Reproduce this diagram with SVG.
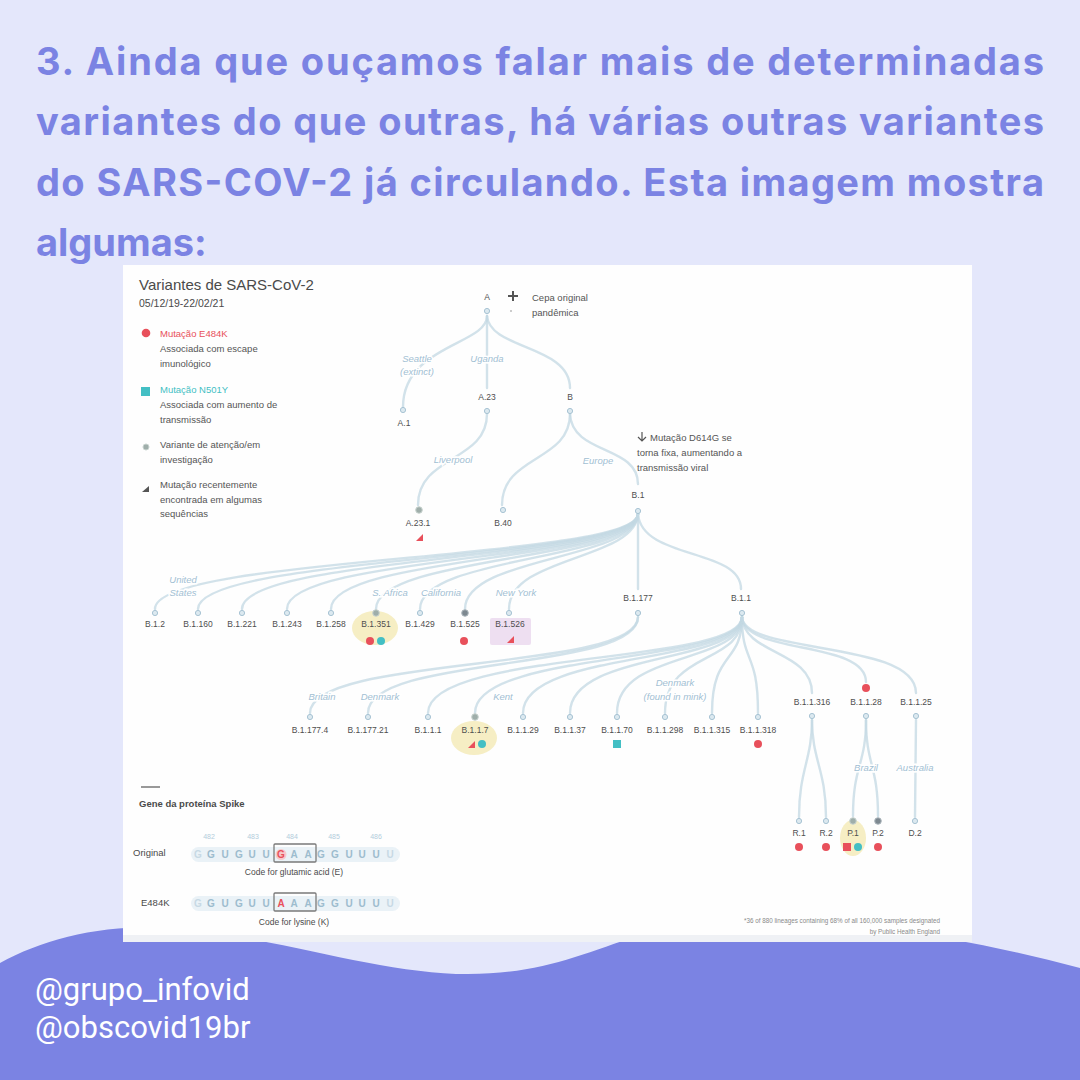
<svg xmlns="http://www.w3.org/2000/svg" width="1080" height="1080" viewBox="0 0 1080 1080">
<style>
.hd{font-family:Inter,"Liberation Sans",sans-serif;font-weight:700;font-size:38px;fill:#7B83E3}
.ft{font-family:Roboto,"Liberation Sans",sans-serif;font-size:31px;fill:#FFFFFF}
.t{font-family:"Liberation Sans",Arial,sans-serif;fill:#4A4A4A}
.lg{font-family:"Liberation Sans",Arial,sans-serif;font-size:9.5px;fill:#555}
.lb{font-family:"Liberation Sans",Arial,sans-serif;font-size:8.5px;fill:#4E4E4E;text-anchor:middle}
.cty{font-family:"Liberation Sans",Arial,sans-serif;font-size:9.5px;font-style:italic;fill:#A2C0D3;stroke:#FFFFFF;stroke-width:3;paint-order:stroke;text-anchor:middle}
.e{fill:none;stroke:#C3D8E3;stroke-width:2.4;stroke-linecap:round;opacity:.75}
.nd{fill:#DCE9F0;stroke:#A7C3D3;stroke-width:1}
.voc{fill:#9FAEAA;stroke:#C9D4D0;stroke-width:1}
.dk{fill:#7D8890;stroke:#AEB8BE;stroke-width:1}
.red{fill:#E8505B}
.teal{fill:#43BFC4}
.hl{fill:#F6EEC4}
.seq{font-family:"Liberation Sans",Arial,sans-serif;font-size:10px;fill:#9DBCCE;text-anchor:middle;font-weight:700}
.num{font-family:"Liberation Sans",Arial,sans-serif;font-size:7px;fill:#B3CDDC;text-anchor:middle}
.box{fill:none;stroke:#7A7A7A;stroke-width:1.3}
.fn{font-family:"Liberation Sans",Arial,sans-serif;font-size:6.3px;fill:#8A8A8A;text-anchor:end}
</style>

<rect x="0" y="0" width="1080" height="1080" fill="#E4E7FB"/>
<path d="M0,963 C50,935 120,920 200,930 C300,945 390,974 468,974 C540,974 580,955 640,935 C720,905 900,920 1080,968 L1080,1080 L0,1080 Z" fill="#7B83E3"/>

<g id="heading">
<text class="hd" x="36" y="75" textLength="1008" lengthAdjust="spacing">3. Ainda que ouçamos falar mais de determinadas</text>
<text class="hd" x="36" y="135" textLength="1008" lengthAdjust="spacing">variantes do que outras, há várias outras variantes</text>
<text class="hd" x="36" y="196" textLength="1008" lengthAdjust="spacing">do SARS-COV-2 já circulando. Esta imagem mostra</text>
<text class="hd" x="36" y="256">algumas:</text>
</g>

<g id="footer">
<text class="ft" x="35" y="1000">@grupo_infovid</text>
<text class="ft" x="35" y="1038">@obscovid19br</text>
</g>

<g id="panel">
<rect x="123" y="265" width="849" height="677" fill="#FEFEFE"/>
<rect x="123" y="935" width="849" height="7" fill="#EFF1F5"/>
</g>

<g id="title">
<text class="t" x="139" y="290" font-size="15">Variantes de SARS-CoV-2</text>
<text class="t" x="139" y="307" font-size="10.5">05/12/19-22/02/21</text>
</g>

<g id="legend">
<circle class="red" cx="146" cy="333" r="4.3"/>
<text class="lg" x="160" y="337" style="fill:#E8505B">Mutação E484K</text>
<text class="lg" x="160" y="352">Associada com escape</text>
<text class="lg" x="160" y="367">imunológico</text>
<rect class="teal" x="141" y="387" width="9" height="9"/>
<text class="lg" x="160" y="393" style="fill:#43BFC4">Mutação N501Y</text>
<text class="lg" x="160" y="408">Associada com aumento de</text>
<text class="lg" x="160" y="423">transmissão</text>
<circle class="voc" cx="146" cy="447" r="3"/>
<text class="lg" x="160" y="448">Variante de atenção/em</text>
<text class="lg" x="160" y="463">investigação</text>
<path d="M142,492 L149,486 L149,492 Z" fill="#555"/>
<text class="lg" x="160" y="488">Mutação recentemente</text>
<text class="lg" x="160" y="503">encontrada em algumas</text>
<text class="lg" x="160" y="517">sequências</text>
</g>

<g id="connectors">
<path class="e" d="M487,316 C487,345 403,345 403,407"/>
<path class="e" d="M487,316 L487,388"/>
<path class="e" d="M487,316 C490,350 570,345 570,388"/>
<path class="e" d="M487,414 C487,462 418,455 418,505"/>
<path class="e" d="M570,414 C570,462 502,455 502,505"/>
<path class="e" d="M570,414 C572,455 638,445 638,484"/>
<path class="e" d="M638,514 C636,560 155,556 155,609"/>
<path class="e" d="M638,514 C636,560 198,556 198,609"/>
<path class="e" d="M638,514 C636,560 242,556 242,609"/>
<path class="e" d="M638,514 C636,560 287,556 287,609"/>
<path class="e" d="M638,514 C636,560 331,556 331,609"/>
<path class="e" d="M638,514 C636,560 376,556 376,609"/>
<path class="e" d="M638,514 C636,560 420,556 420,609"/>
<path class="e" d="M638,514 C636,560 465,556 465,609"/>
<path class="e" d="M638,514 C636,560 509,556 509,609"/>
<path class="e" d="M638,514 L638,589"/>
<path class="e" d="M638,514 C642,560 741,548 741,589"/>
<path class="e" d="M638,617 C638,672 310,655 310,713"/>
<path class="e" d="M638,617 C638,672 368,655 368,713"/>
<path class="e" d="M742,617 C742,665 428,650 428,713"/>
<path class="e" d="M742,617 C742,665 475,650 475,713"/>
<path class="e" d="M742,617 C742,665 523,650 523,713"/>
<path class="e" d="M742,617 C742,665 570,650 570,713"/>
<path class="e" d="M742,617 C742,665 617,650 617,713"/>
<path class="e" d="M742,617 C742,665 665,650 665,713"/>
<path class="e" d="M742,617 C742,665 712,650 712,713"/>
<path class="e" d="M742,617 C742,665 758,650 758,713"/>
<path class="e" d="M742,617 C744,655 812,650 812,693"/>
<path class="e" d="M742,617 C744,655 866,640 866,682"/>
<path class="e" d="M742,617 C744,655 916,640 916,693"/>
<path class="e" d="M812,720 C812,760 799,770 799,817"/>
<path class="e" d="M812,720 C812,760 826,770 826,817"/>
<path class="e" d="M866,720 C866,765 853,765 853,816"/>
<path class="e" d="M866,720 C866,765 878,765 878,816"/>
<path class="e" d="M916,720 L915,817"/>
</g>

<g id="countries">
<text class="cty" x="417" y="362">Seattle</text>
<text class="cty" x="417" y="375">(extinct)</text>
<text class="cty" x="487" y="362">Uganda</text>
<text class="cty" x="453" y="463">Liverpool</text>
<text class="cty" x="598" y="464">Europe</text>
<text class="cty" x="183" y="583">United</text>
<text class="cty" x="183" y="596">States</text>
<text class="cty" x="390" y="596">S. Africa</text>
<text class="cty" x="441" y="596">California</text>
<text class="cty" x="516" y="596">New York</text>
<text class="cty" x="322" y="700">Britain</text>
<text class="cty" x="380" y="700">Denmark</text>
<text class="cty" x="503" y="700">Kent</text>
<text class="cty" x="675" y="686">Denmark</text>
<text class="cty" x="675" y="700">(found in mink)</text>
<text class="cty" x="866" y="771">Brazil</text>
<text class="cty" x="915" y="771">Australia</text>
</g>

<g id="node-A"><text class="lb" x="487" y="300">A</text><circle class="nd" cx="487" cy="311" r="2.6"/></g>
<g id="origin-note">
<path d="M513,291 L513,301 M508,296 L518,296" stroke="#555" stroke-width="2"/>
<circle cx="511" cy="311" r="1" fill="#BBB"/>
<text class="lg" x="532" y="301">Cepa original</text>
<text class="lg" x="532" y="316">pandêmica</text>
</g>
<g id="node-A.1"><circle class="nd" cx="403" cy="410" r="2.6"/><text class="lb" x="404" y="426">A.1</text></g>
<g id="node-A.23"><text class="lb" x="487" y="400">A.23</text><circle class="nd" cx="487" cy="411" r="2.6"/></g>
<g id="node-B"><text class="lb" x="570" y="400">B</text><circle class="nd" cx="570" cy="411" r="2.6"/></g>
<g id="node-A.23.1"><circle class="voc" cx="419" cy="510" r="3.3"/><text class="lb" x="418" y="526">A.23.1</text><path d="M416,541 L423,534 L423,541 Z" class="red"/></g>
<g id="node-B.40"><circle class="nd" cx="503" cy="510" r="2.6"/><text class="lb" x="503" y="526">B.40</text></g>
<g id="note-D614G">
<path d="M642,432 L642,441 M638,437 L642,441 L646,437" stroke="#555" stroke-width="1.2" fill="none"/>
<text class="lg" x="650" y="441">Mutação D614G se</text>
<text class="lg" x="637" y="456">torna fixa, aumentando a</text>
<text class="lg" x="637" y="471">transmissão viral</text>
</g>
<g id="node-B.1"><text class="lb" x="638" y="498">B.1</text><circle class="nd" cx="638" cy="511" r="2.6"/></g>

<g id="node-B.1.2"><circle class="nd" cx="155" cy="613" r="2.6"/><text class="lb" x="155" y="627">B.1.2</text></g>
<g id="node-B.1.160"><circle class="nd" cx="198" cy="613" r="2.6"/><text class="lb" x="198" y="627">B.1.160</text></g>
<g id="node-B.1.221"><circle class="nd" cx="242" cy="613" r="2.6"/><text class="lb" x="242" y="627">B.1.221</text></g>
<g id="node-B.1.243"><circle class="nd" cx="287" cy="613" r="2.6"/><text class="lb" x="287" y="627">B.1.243</text></g>
<g id="node-B.1.258"><circle class="nd" cx="331" cy="613" r="2.6"/><text class="lb" x="331" y="627">B.1.258</text></g>
<g id="node-B.1.351"><ellipse class="hl" cx="375" cy="628" rx="23" ry="17"/><circle class="voc" cx="376" cy="613" r="3.3"/><text class="lb" x="376" y="627">B.1.351</text><circle class="red" cx="370" cy="641" r="4"/><circle class="teal" cx="381" cy="641" r="4"/></g>
<g id="node-B.1.429"><circle class="nd" cx="420" cy="613" r="2.6"/><text class="lb" x="420" y="627">B.1.429</text></g>
<g id="node-B.1.525"><circle class="dk" cx="465" cy="613" r="3.3"/><text class="lb" x="465" y="627">B.1.525</text><circle class="red" cx="464" cy="641" r="4"/></g>
<g id="node-B.1.526"><rect x="490" y="618" width="41" height="27" rx="2" fill="#EEDFF1"/><circle class="nd" cx="509" cy="613" r="2.6"/><text class="lb" x="510" y="627">B.1.526</text><path d="M507,643 L514,636 L514,643 Z" class="red"/></g>
<g id="node-B.1.177"><text class="lb" x="638" y="601">B.1.177</text><circle class="nd" cx="638" cy="613" r="2.6"/></g>
<g id="node-B.1.1"><text class="lb" x="741" y="601">B.1.1</text><circle class="nd" cx="742" cy="613" r="2.6"/></g>

<g id="node-B.1.177.4"><circle class="nd" cx="310" cy="717" r="2.6"/><text class="lb" x="310" y="733">B.1.177.4</text></g>
<g id="node-B.1.177.21"><circle class="nd" cx="368" cy="717" r="2.6"/><text class="lb" x="368" y="733">B.1.177.21</text></g>
<g id="node-B.1.1.1"><circle class="nd" cx="428" cy="717" r="2.6"/><text class="lb" x="428" y="733">B.1.1.1</text></g>
<g id="node-B.1.1.7"><ellipse class="hl" cx="474" cy="738" rx="23" ry="17"/><circle class="voc" cx="475" cy="717" r="3.3"/><text class="lb" x="475" y="733">B.1.1.7</text><path d="M468,748 L475,741 L475,748 Z" class="red"/><circle class="teal" cx="482" cy="744" r="4"/></g>
<g id="node-B.1.1.29"><circle class="nd" cx="523" cy="717" r="2.6"/><text class="lb" x="523" y="733">B.1.1.29</text></g>
<g id="node-B.1.1.37"><circle class="nd" cx="570" cy="717" r="2.6"/><text class="lb" x="570" y="733">B.1.1.37</text></g>
<g id="node-B.1.1.70"><circle class="nd" cx="617" cy="717" r="2.6"/><text class="lb" x="617" y="733">B.1.1.70</text><rect class="teal" x="613" y="740" width="8" height="8"/></g>
<g id="node-B.1.1.298"><circle class="nd" cx="665" cy="717" r="2.6"/><text class="lb" x="665" y="733">B.1.1.298</text></g>
<g id="node-B.1.1.315"><circle class="nd" cx="712" cy="717" r="2.6"/><text class="lb" x="712" y="733">B.1.1.315</text></g>
<g id="node-B.1.1.318"><circle class="nd" cx="758" cy="717" r="2.6"/><text class="lb" x="758" y="733">B.1.1.318</text><circle class="red" cx="758" cy="744" r="4"/></g>
<g id="node-B.1.1.316"><text class="lb" x="812" y="705">B.1.1.316</text><circle class="nd" cx="812" cy="716" r="2.6"/></g>
<g id="node-B.1.1.28"><circle class="red" cx="866" cy="688" r="4"/><text class="lb" x="866" y="705">B.1.1.28</text><circle class="nd" cx="866" cy="716" r="2.6"/></g>
<g id="node-B.1.1.25"><text class="lb" x="916" y="705">B.1.1.25</text><circle class="nd" cx="916" cy="716" r="2.6"/></g>

<g id="node-R.1"><circle class="nd" cx="799" cy="821" r="2.6"/><text class="lb" x="799" y="836">R.1</text><circle class="red" cx="799" cy="847" r="4"/></g>
<g id="node-R.2"><circle class="nd" cx="826" cy="821" r="2.6"/><text class="lb" x="826" y="836">R.2</text><circle class="red" cx="826" cy="847" r="4"/></g>
<g id="node-P.1"><ellipse class="hl" cx="853" cy="838" rx="13" ry="18"/><circle class="voc" cx="853" cy="821" r="3.3"/><text class="lb" x="853" y="836">P.1</text><rect class="red" x="843" y="843" width="8" height="8"/><circle class="teal" cx="858" cy="847" r="4"/></g>
<g id="node-P.2"><circle class="dk" cx="878" cy="821" r="3.3"/><text class="lb" x="878" y="836">P.2</text><circle class="red" cx="878" cy="847" r="4"/></g>
<g id="node-D.2"><circle class="nd" cx="915" cy="821" r="2.6"/><text class="lb" x="915" y="836">D.2</text></g>

<g id="spike-gene">
<line x1="141" y1="787" x2="160" y2="787" stroke="#555" stroke-width="1.2"/>
<text class="t" x="139" y="807" font-size="9.5" font-weight="700">Gene da proteína Spike</text>
<text class="num" x="209" y="839">482</text>
<text class="num" x="253" y="839">483</text>
<text class="num" x="292" y="839">484</text>
<text class="num" x="334" y="839">485</text>
<text class="num" x="376" y="839">486</text>
<text class="t" x="133" y="856" font-size="9.5">Original</text>
<rect x="191" y="847" width="209" height="15" rx="7.5" fill="#EAF2F7"/>
<circle cx="281" cy="854.5" r="5.5" fill="#F6C9CC"/>
<g class="seq">
<text x="198" y="858" opacity=".45">G</text><text x="211" y="858">G</text><text x="225" y="858">U</text><text x="239" y="858">G</text><text x="252" y="858">U</text><text x="266" y="858">U</text><text x="281" y="858" style="fill:#E8505B">G</text><text x="294" y="858">A</text><text x="308" y="858">A</text><text x="321" y="858">G</text><text x="335" y="858">G</text><text x="349" y="858">U</text><text x="362" y="858">U</text><text x="376" y="858">U</text><text x="390" y="858" opacity=".45">U</text>
</g>
<rect class="box" x="274" y="844" width="42" height="18" rx="1"/>
<text class="t" x="294" y="875" font-size="8.5" text-anchor="middle">Code for glutamic acid (E)</text>
<text class="t" x="141" y="906" font-size="9.5">E484K</text>
<rect x="191" y="896" width="209" height="15" rx="7.5" fill="#EAF2F7"/>
<g class="seq">
<text x="198" y="907" opacity=".45">G</text><text x="211" y="907">G</text><text x="225" y="907">U</text><text x="239" y="907">G</text><text x="252" y="907">U</text><text x="266" y="907">U</text><text x="281" y="907" style="fill:#E8505B">A</text><text x="294" y="907">A</text><text x="308" y="907">A</text><text x="321" y="907">G</text><text x="335" y="907">G</text><text x="349" y="907">U</text><text x="362" y="907">U</text><text x="376" y="907">U</text><text x="390" y="907" opacity=".45">U</text>
</g>
<rect class="box" x="274" y="893" width="42" height="18" rx="1"/>
<text class="t" x="294" y="925" font-size="8.5" text-anchor="middle">Code for lysine (K)</text>
</g>

<g id="footnote">
<text class="fn" x="940" y="923">*36 of 880 lineages containing 68% of all 160,000 samples designated</text>
<text class="fn" x="940" y="934">by Public Health England</text>
</g>
</svg>
